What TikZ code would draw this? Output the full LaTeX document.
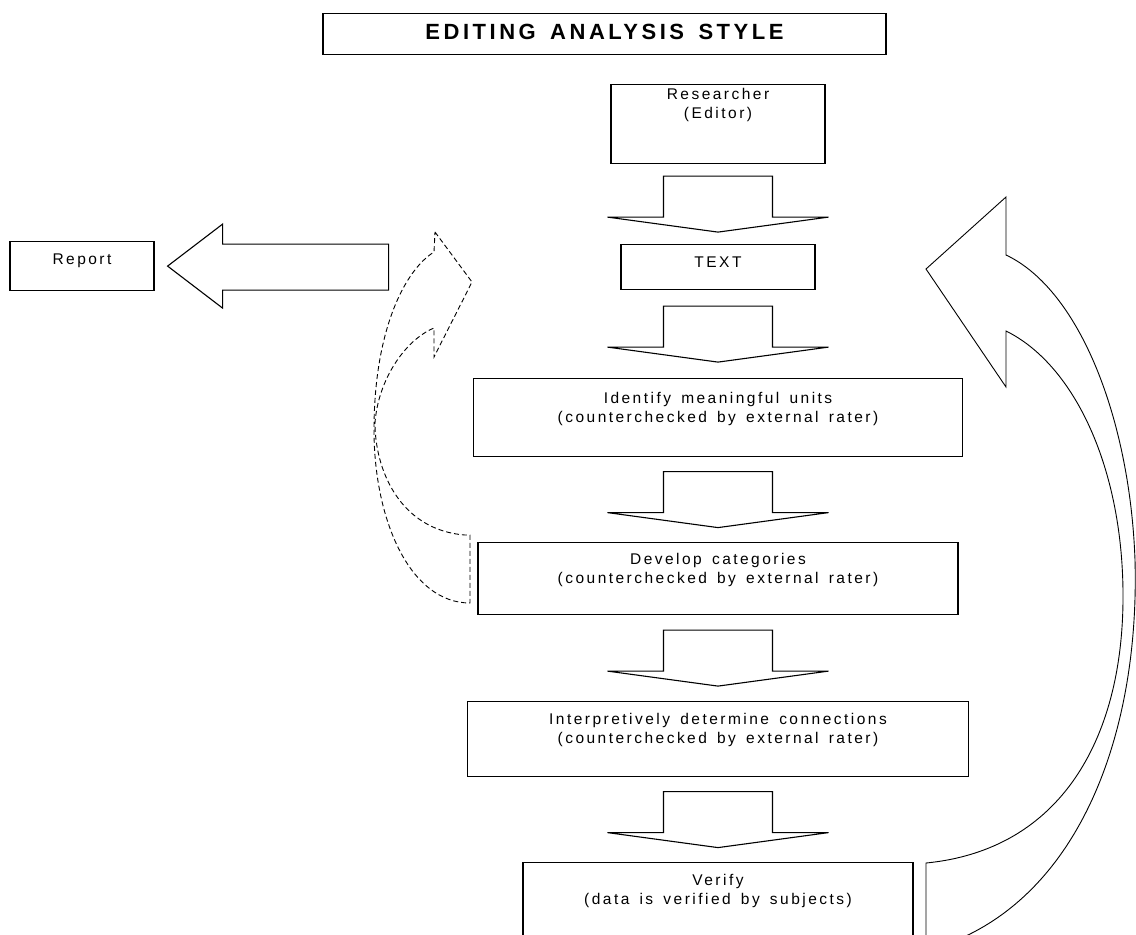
\documentclass[tikz,border=0pt]{standalone}
\usepackage{fontspec}
\setmainfont{Liberation Sans}
\newfontfamily\spaced[LetterSpace=16, WordSpace=1.5]{Liberation Sans}
\usetikzlibrary{calc}

\tikzset{
    kasten/.style={draw, line width=1.2pt, inner sep=0pt, anchor=north,
        font=\spaced\fontsize{15.5}{19}\selectfont,
        execute at begin node={\begin{minipage}[t]{#1}\centering},
        execute at end node={\end{minipage}}},
    pfeil/.style={draw, line width=1.1pt, line join=miter},
    bogen/.style={draw, line width=0.9pt}
}

\begin{document}
\begin{tikzpicture}[x=1pt, y=-1pt]
    \clip (0,0) rectangle (1136,935);
    \path node[kasten=563pt, text height=26pt, text depth=15pt,
            font=\spaced\bfseries\fontsize{22}{26}\selectfont] (Title) at (604.5,13) {EDITING ANALYSIS STYLE}
        node[kasten=214pt, text height=15pt, text depth=64pt] (Res) at (718,84) {Researcher\\(Editor)}
        node[kasten=194pt, text height=23pt, text depth=22pt] (Text) at (718,244) {TEXT}
        node[kasten=489pt, text height=25pt, text depth=53pt] (Units) at (718,378) {Identify meaningful units\\(counterchecked by external rater)}
        node[kasten=480pt, text height=22pt, text depth=50pt] (Cat) at (718,542) {Develop categories\\(counterchecked by external rater)}
        node[kasten=501pt, text height=23pt, text depth=52pt] (Conn) at (718,701) {Interpretively determine connections\\(counterchecked by external rater)}
        node[kasten=390pt, text height=23pt, text depth=70pt] (Ver) at (718,862) {Verify\\(data is verified by subjects)}
        node[kasten=144pt, text height=23pt, text depth=26pt] (Rep) at (82,241) {Report};
    % Blockpfeile nach unten
    \foreach \a/\b in {Res/Text, Text/Units, Units/Cat, Cat/Conn, Conn/Ver}
        \draw[pfeil] ($(\a.south)!0.5!(\b.north)$) ++(-54.5,-28) -- ++(109,0) -- ++(0,41) -- ++(56,0)
            -- ++(-110.5,15) -- ++(-110.5,-15) -- ++(56,0) -- cycle;
    % zum Bericht
    \draw[pfeil] ([xshift=13pt]Rep.east) -- ++(55,-42) -- ++(0,20) -- ++(166,0) -- ++(0,46)
        -- ++(-166,0) -- ++(0,18) -- cycle;
    % gestrichelter Bogen
    \draw[bogen, dash pattern=on 5pt off 3pt] (435,232) -- (472,282) -- (434,357) -- (434,328)
        .. controls (405,340) and (378,380) .. (375,423)
        .. controls (375,470) and (400,530) .. (465,535) -- (470,535) -- (470,603)
        .. controls (410,603) and (374,520) .. (374,430)
        .. controls (374,330) and (405,270) .. (434,252) -- cycle;
    % grosser Bogen rechts
    \draw[bogen] (926,269) -- (1006,197) -- (1006,255)
        .. controls (1080,290) and (1130,420) .. (1135,560)
        .. controls (1140,740) and (1075,905) .. (935,948) -- (926,948) -- (926,863)
        .. controls (1060,850) and (1122,740) .. (1123,600)
        .. controls (1124,470) and (1075,365) .. (1006,331) -- (1006,387) -- cycle;
\end{tikzpicture}
\end{document}
